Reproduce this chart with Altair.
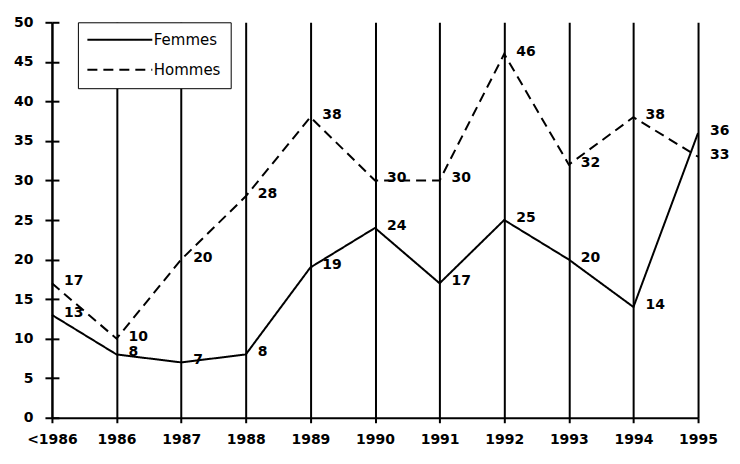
import altair as alt
import pandas as pd

categories = ["<1986", "1986", "1987", "1988", "1989", "1990", "1991", "1992", "1993", "1994", "1995"]
femmes = [13, 8, 7, 8, 19, 24, 17, 25, 20, 14, 36]
hommes = [17, 10, 20, 28, 38, 30, 30, 46, 32, 38, 33]
series = ["Femmes", "Hommes"]

rows = []
for c, f, h in zip(categories, femmes, hommes):
    rows.append({"annee": c, "valeur": f, "sexe": series[0]})
    rows.append({"annee": c, "valeur": h, "sexe": series[1]})
df = pd.DataFrame(rows)

FONT = "DejaVu Sans"

x_enc = alt.X(
    "annee:N",
    sort=categories,
    scale=alt.Scale(type="point", padding=0),
    axis=alt.Axis(
        title=None, labelAngle=0, grid=True, gridColor="black", gridWidth=2,
        domainColor="black", domainWidth=2, tickColor="black", tickWidth=2,
        tickSize=5, labelPadding=10, labelFont=FONT, labelFontSize=14,
        labelFontWeight="bold", labelColor="black",
    ),
)
y_scale = alt.Scale(domain=[0, 50])

lines = alt.Chart(df).mark_line(color="black", strokeWidth=2).encode(
    x=x_enc,
    y=alt.Y(
        "valeur:Q", scale=y_scale,
        axis=alt.Axis(
            title=None, values=list(range(0, 51, 5)), grid=False, orient="left",
            domainColor="black", domainWidth=2, tickColor="black", tickWidth=2,
            tickSize=7, labelPadding=12, labelFont=FONT, labelFontSize=14,
            labelFontWeight="bold", labelColor="black",
        ),
    ),
    strokeDash=alt.StrokeDash(
        "sexe:N",
        scale=alt.Scale(domain=series, range=[[1, 0], [10, 6]]),
        legend=alt.Legend(
            title=None, orient="none", legendX=26, legendY=0,
            symbolType="M-1.6,0H11.4", symbolSize=100, symbolStrokeWidth=2,
            symbolStrokeColor="black", labelFont=FONT, labelFontSize=15,
            labelColor="black", labelOffset=51, rowPadding=14, padding=10,
            strokeColor="black", fillColor="white",
        ),
    ),
)

labels = alt.Chart(df).mark_text(
    align="left", baseline="middle", dx=12, dy=-2, font=FONT, fontSize=14,
    fontWeight="bold", color="black",
).encode(
    x=x_enc,
    y=alt.Y("valeur:Q", scale=y_scale, axis=None),
    text="valeur:Q",
)

inner_ticks = alt.Chart(df).mark_point(opacity=0).encode(
    y=alt.Y(
        "valeur:Q", scale=y_scale,
        axis=alt.Axis(
            title=None, values=list(range(0, 51, 5)), orient="left", offset=-7,
            labels=False, domain=False, grid=False, tickColor="black",
            tickWidth=2, tickSize=7,
        ),
    ),
    x=x_enc,
)

chart = (
    alt.layer(lines, labels, inner_ticks)
    .resolve_axis(y="independent")
    .properties(
        width=647, height=396, autosize="none",
        padding={"left": 44, "top": 14, "right": 34, "bottom": 36},
    )
    .configure_view(stroke=None)
)

chart.save("out.html", embed_options={"renderer": "svg", "actions": False})
